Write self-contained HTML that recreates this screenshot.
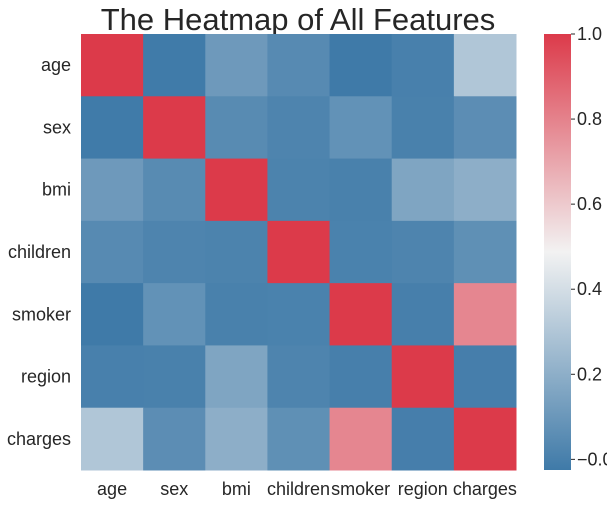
<!DOCTYPE html>
<html><head><meta charset="utf-8"><style>
body{margin:0;background:#fff;font-family:"Liberation Sans","DejaVu Sans",sans-serif}
svg text{font-family:"Liberation Sans","DejaVu Sans",sans-serif;fill:#262626}
</style></head><body>
<svg id="c" width="607" height="503" viewBox="0 0 607 503" xmlns="http://www.w3.org/2000/svg">
<defs><linearGradient id="g" x1="0" y1="1" x2="0" y2="0">
<stop offset="0" stop-color="#3f7aa8"/><stop offset="0.5" stop-color="#f2f2f2"/><stop offset="1" stop-color="#dc3a4a"/></linearGradient></defs>
<text x="298" y="30" font-size="31" text-anchor="middle">The Heatmap of All Features</text>
<g id="cells"></g><g id="labels"></g>
<rect x="544" y="34" width="27" height="436" fill="url(#g)"/>
<g id="cbt"></g>
</svg>
<script>
const features=["age","sex","bmi","children","smoker","region","charges"];
const corr=[
[1,-0.0209,0.1093,0.0425,-0.0250,0.0021,0.2990],
[-0.0209,1,0.0464,0.0172,0.0762,0.0046,0.0573],
[0.1093,0.0464,1,0.0128,0.0038,0.1576,0.1983],
[0.0425,0.0172,0.0128,1,0.0077,0.0166,0.0680],
[-0.0250,0.0762,0.0038,0.0077,1,-0.0022,0.7873],
[0.0021,0.0046,0.1576,0.0166,-0.0022,1,-0.0062],
[0.2990,0.0573,0.1983,0.0680,0.7873,-0.0062,1]];
const cbTicks=[0.0,0.2,0.4,0.6,0.8,1.0];
const vmin=-0.025,vmax=1;
const X0=81,Y0=34,W=435,H=436,n=features.length,cw=W/n,ch=H/n;
const NS="http://www.w3.org/2000/svg";
function mix(a,b,t){return a.map((v,i)=>Math.round(v+(b[i]-v)*t));}
function color(v){const t=Math.max(0,Math.min(1,(v-vmin)/(vmax-vmin)));
const lo=[63,122,168],mid=[242,242,242],hi=[220,58,74];
const c=t<0.5?mix(lo,mid,t/0.5):mix(mid,hi,(t-0.5)/0.5);return `rgb(${c})`;}
function cy(v){return Y0+H-(v-vmin)/(vmax-vmin)*H;}
const cells=document.getElementById('cells'),labels=document.getElementById('labels'),cbt=document.getElementById('cbt');
corr.forEach((row,i)=>row.forEach((v,j)=>{
const r=document.createElementNS(NS,'rect');
r.setAttribute('x',X0+j*cw);r.setAttribute('y',Y0+i*ch);
r.setAttribute('width',cw+0.5);r.setAttribute('height',ch+0.5);r.setAttribute('fill',color(v));


cells.appendChild(r);}));
features.forEach((f,i)=>{
const t=document.createElementNS(NS,'text');
t.setAttribute('x',X0-10);t.setAttribute('y',Y0+(i+0.5)*ch+6);t.setAttribute('font-size','18');t.setAttribute('text-anchor','end');t.textContent=f;


labels.appendChild(t);
const u=document.createElementNS(NS,'text');
u.setAttribute('x',X0+(i+0.5)*cw);u.setAttribute('y',495);u.setAttribute('font-size','18');u.setAttribute('text-anchor','middle');u.textContent=f;


labels.appendChild(u);});
cbTicks.forEach(v=>{
const l=document.createElementNS(NS,'line');
l.setAttribute('x1',571);l.setAttribute('x2',575);l.setAttribute('y1',cy(v));l.setAttribute('y2',cy(v));l.setAttribute('stroke','#262626');


cbt.appendChild(l);
const t=document.createElementNS(NS,'text');
t.setAttribute('x',577);t.setAttribute('y',cy(v)+6);t.setAttribute('font-size','18');t.textContent=(v===0?'\u22120.0':v.toFixed(1));


cbt.appendChild(t);});
</script>
</body></html>
